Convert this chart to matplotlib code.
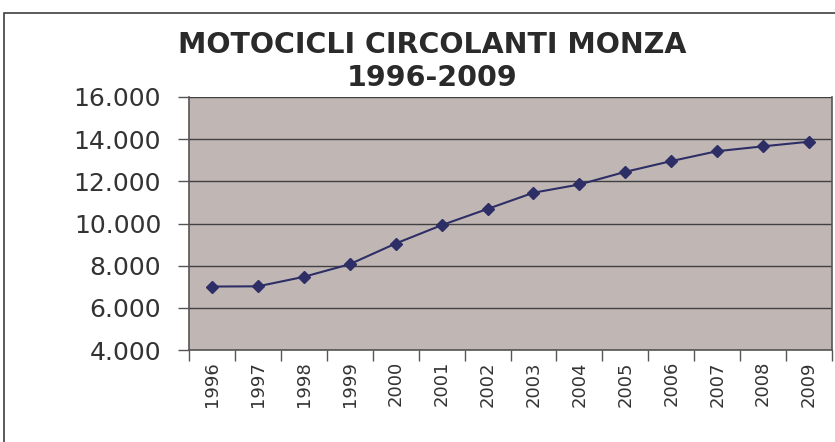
import matplotlib
matplotlib.use("Agg")
import matplotlib.pyplot as plt
import numpy as np
from matplotlib.patches import Rectangle

# data
anni = ['1996', '1997', '1998', '1999', '2000', '2001', '2002',
        '2003', '2004', '2005', '2006', '2007', '2008', '2009']
motocicli = [7010, 7020, 7470, 8070, 9050, 9920, 10690,
             11460, 11850, 12450, 12960, 13430, 13660, 13880]
y_ticks = [4000, 6000, 8000, 10000, 12000, 14000, 16000]

plt.rcParams['font.family'] = ['DejaVu Sans']

fig = plt.figure(figsize=(8.35, 4.42), dpi=100)
fig.patch.set_facecolor('white')

# outer chart frame (only top and left edges visible)
fig.patches.append(Rectangle((4 / 835, -0.1), 1.2, 1 - 13 / 442 + 0.1,
                             transform=fig.transFigure, fill=False,
                             edgecolor='#404040', linewidth=1.2))

ax = fig.add_axes([189 / 835, 1 - 350 / 442, 643 / 835, 253 / 442])
ax.set_facecolor('#c0b7b5')

ind = np.arange(len(anni))
ax.plot(ind, motocicli, color='#2e2e66', linewidth=1.5,
        marker='D', markersize=6.5, markerfacecolor='#2e2e66',
        markeredgecolor='#2e2e66', zorder=3)

ax.set_xlim(-0.5, len(anni) - 0.5)
ax.set_ylim(4000, 16000)
ax.set_yticks(y_ticks)
ax.set_yticklabels(['{:,}'.format(v).replace(',', '.') for v in y_ticks],
                   fontsize=18, color='#333333')
ax.yaxis.grid(True, color='#404040', linewidth=1.0)
ax.set_axisbelow(True)

ax.set_xticks(ind)
ax.set_xticklabels(anni, rotation=90, fontsize=13, color='#333333')
ax.set_xticks(np.arange(-0.5, len(anni)), minor=True)
ax.tick_params(axis='x', which='major', length=0, pad=8)
ax.tick_params(axis='x', which='minor', length=8, width=1, color='#555555')
ax.tick_params(axis='y', length=8, width=1, color='#555555', pad=12)

for s in ['left', 'bottom', 'right']:
    ax.spines[s].set_color('#555555')
    ax.spines[s].set_linewidth(1.2)
ax.spines['top'].set_visible(False)

fig.text(432 / 835, 1 - 45 / 442, 'MOTOCICLI CIRCOLANTI MONZA',
         ha='center', va='center', fontsize=20.5, fontweight='bold',
         color='#2a2a2a')
fig.text(432 / 835, 1 - 78 / 442, '1996-2009',
         ha='center', va='center', fontsize=20.5, fontweight='bold',
         color='#2a2a2a')

fig.savefig('out.png', dpi=100)
